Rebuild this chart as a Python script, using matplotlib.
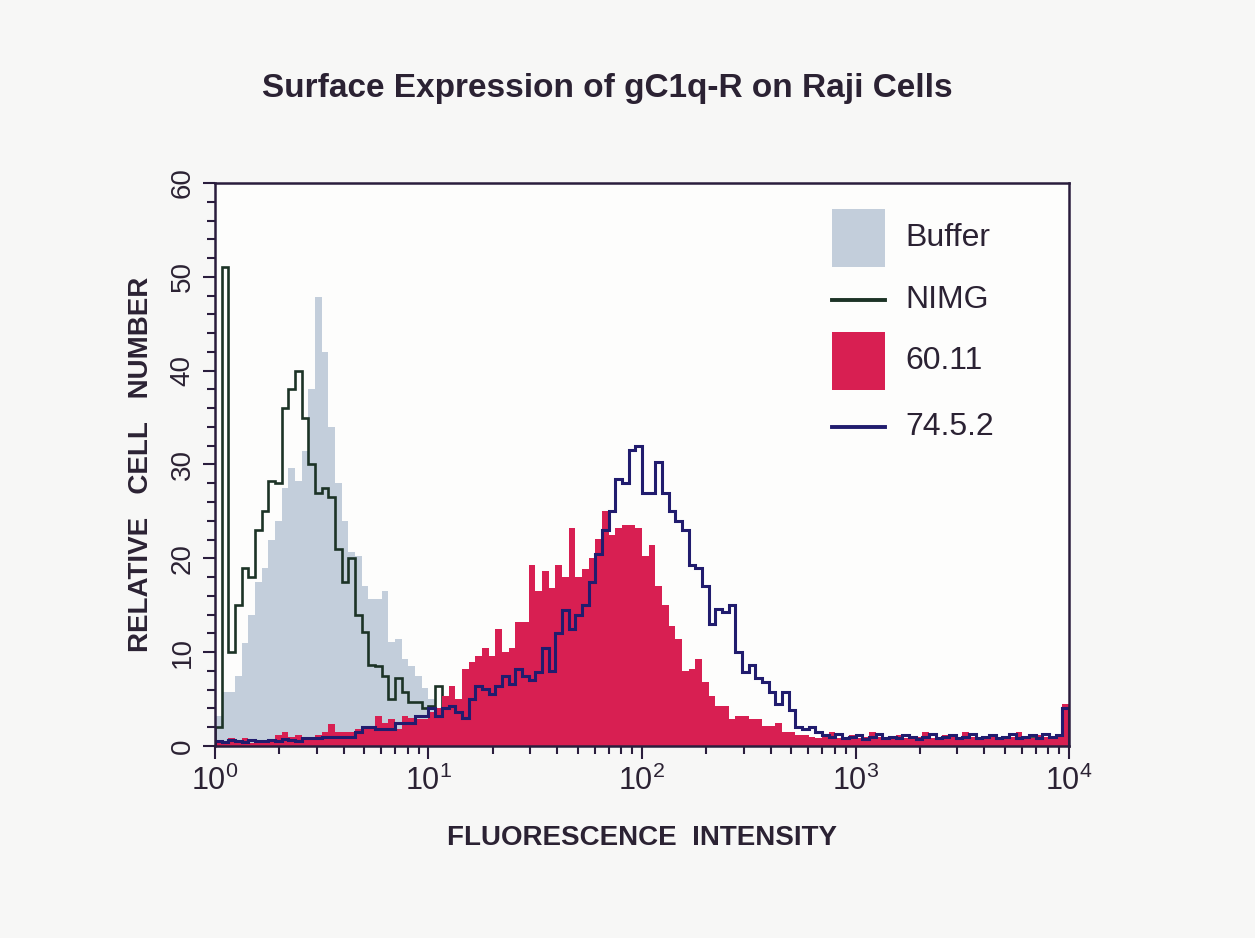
import matplotlib.pyplot as plt
import numpy as np
from matplotlib.patches import Rectangle
from matplotlib.lines import Line2D
from matplotlib.ticker import LogLocator, MultipleLocator, NullFormatter

# histogram counts, 128 log-spaced channels from 10^0 to 10^4
buffer = [3.2, 5.8, 5.8, 7.5, 11, 14, 17.5, 19,
          22, 24, 27.5, 29.6, 28.2, 31.4, 38, 47.8,
          42, 34, 28, 24, 20.7, 20.3, 17, 15.7,
          15.7, 16.5, 11.1, 11.4, 9.3, 8.5, 7.5, 6.2,
          5, 4, 3, 2, 1.5, 1, 0.5, 0]

nimg = [2, 51, 10, 15, 19, 18, 23, 25,
        28.2, 28, 36, 38, 40, 35, 30, 27,
        27.5, 26.5, 21, 17.5, 20, 14, 12.2, 8.6,
        8.5, 7.5, 5, 7.2, 5.8, 4.7, 4.7, 4,
        4.3, 6.4, 2.5, 2, 1.5, 1, 0.8, 0.6,
        0.8, 0.5, 0.7, 0.5, 0.8, 0.6, 0.5, 0.7,
        0.5, 0.6, 0.8, 0.5, 0.7, 0.5, 0.6, 0.8,
        0.5, 0.7, 0.5, 0.6, 0.8, 0.5, 0.7, 0.6,
        0.5, 0.8, 0.6, 0.5, 0.7, 0.8, 0.5, 0.6,
        0.7, 0.5, 0.8, 0.6, 0.5, 0.7, 0.6, 0.8,
        0.5, 0.7, 0.6, 0.5, 0.8, 0.6, 0.7, 0.5,
        0.8, 0.6, 0.5, 0.7, 0.9, 0.6, 0.5, 0.8,
        0.6, 0.7, 0.5, 0.9, 0.6, 0.5, 0.8, 0.6,
        0.7, 0.5, 0.9, 0.6, 0.7, 0.5, 0.8, 0.6,
        0.5, 0.9, 0.7, 0.6, 0.8, 0.5, 0.7, 0.9,
        0.6, 0.5, 0.8, 0.7, 0.6, 0.9, 0.7, 3.5]

ab_6011 = [0.3, 0.5, 0.8, 0.3, 0.8, 0.3, 0.3, 0.5,
           0.5, 1.2, 1.5, 1, 1.2, 0.8, 1, 1.2,
           1.5, 2.3, 1.5, 1.5, 1.5, 1.8, 2.1, 1.8,
           3.2, 2.5, 2.9, 1.8, 3.2, 3, 2.9, 2.9,
           3.6, 4, 5.3, 6.4, 5, 8.2, 9, 9.6,
           10.4, 9.6, 12.5, 10, 10.4, 13.2, 13.2, 19.3,
           16.5, 18.6, 16.8, 19.3, 18, 23.2, 18, 18.9,
           20, 22.1, 25, 22.5, 23.2, 23.5, 23.5, 23.2,
           20.3, 21.4, 17, 15, 12.8, 11.4, 8, 8.2,
           9.3, 6.8, 5.3, 4.3, 4.3, 2.9, 3.2, 3.2,
           2.9, 2.9, 2.1, 2.1, 2.5, 1.5, 1.5, 1.2,
           1.2, 1, 0.8, 1, 1.5, 0.8, 1, 1.2,
           0.8, 1, 1.5, 1, 0.8, 1, 1.2, 0.8,
           1, 1, 1.5, 0.8, 1, 1.2, 1, 0.8,
           1.5, 1, 0.8, 1, 1.2, 1, 0.8, 1,
           1.5, 1, 0.8, 1.2, 1, 0.8, 1.2, 4.5]

ab_7452 = [0.5, 0.4, 0.6, 0.5, 0.4, 0.6, 0.5, 0.5,
           0.6, 0.5, 0.7, 0.6, 0.5, 0.8, 0.8, 0.8,
           1, 1, 1, 1, 1, 1.5, 2, 2,
           1.8, 1.8, 1.8, 2.5, 2.5, 2.5, 3.2, 3.2,
           4, 3.2, 4, 4.3, 3.6, 3, 5, 6.4,
           6.1, 5.5, 6.4, 7.5, 6.6, 8.2, 7.5, 7,
           7.9, 10.4, 8, 12, 14.5, 12.5, 14, 15,
           17.5, 20.5, 23, 25, 28.5, 28, 31.5, 32,
           27, 27, 30.3, 27, 25, 24, 23, 19.3,
           19, 17, 13, 14.6, 14.3, 15, 10, 7.9,
           8.6, 7.2, 6.8, 5.8, 4.5, 5.8, 3.8, 2,
           1.8, 2, 1.5, 1.2, 1, 1.3, 0.8, 1,
           1.2, 0.7, 1, 1.3, 0.8, 1, 0.8, 1.2,
           1, 0.7, 1, 1.3, 0.8, 1, 1.2, 0.8,
           1, 1.3, 0.8, 1, 1.2, 0.8, 1, 1.3,
           0.8, 1, 1.2, 0.8, 1.3, 1, 1.2, 4]

labels = ['Buffer', 'NIMG', '60.11', '74.5.2']
x_ticks = [1, 10, 100, 1000, 10000]
x_ticklabels = ['$10^0$', '$10^1$', '$10^2$', '$10^3$', '$10^4$']

c_buffer = '#c3cedb'
c_nimg = '#1c3326'
c_red = '#d81f52'
c_blue = '#211c6e'
c_frame = '#2a1d3d'
c_text = '#2b2233'

plt.rcParams['font.family'] = ['Liberation Sans', 'DejaVu Sans']
plt.rcParams['mathtext.default'] = 'regular'

fig = plt.figure(figsize=(12.55, 9.38), dpi=100, facecolor='#f7f7f6')
ax = fig.add_axes([0.1713, 0.2047, 0.6805, 0.6002], facecolor='#fdfdfc')

edges = np.logspace(0, 4, len(ab_6011) + 1)

ax.stairs(buffer, edges[:len(buffer) + 1], fill=True, color=c_buffer, baseline=0)
ax.stairs(nimg, edges, color=c_nimg, lw=1.9, baseline=0)
ax.stairs(ab_6011, edges, fill=True, color=c_red, baseline=0)
ax.stairs(ab_7452, edges, color=c_blue, lw=2.2, baseline=0)

ax.set_xscale('log')
ax.set_xlim(1, 1e4)
ax.set_ylim(0, 60)
ax.set_xticks(x_ticks)
ax.set_xticklabels(x_ticklabels)
ax.xaxis.set_minor_locator(LogLocator(base=10, subs=range(2, 10)))
ax.xaxis.set_minor_formatter(NullFormatter())
ax.set_yticks(range(0, 61, 10))
ax.yaxis.set_minor_locator(MultipleLocator(2))

ax.tick_params(which='both', direction='out', color=c_frame, width=1.5,
               labelcolor=c_text, top=False, right=False)
ax.tick_params(which='major', length=9)
ax.tick_params(which='minor', length=6)
ax.tick_params(axis='x', labelsize=22, pad=5)
ax.tick_params(axis='y', labelsize=20, pad=5)
for lab in ax.get_yticklabels():
    lab.set_rotation(90)
    lab.set_va('center')
for s in ax.spines.values():
    s.set_color(c_frame)
    s.set_linewidth(1.8)

ax.set_xlabel('FLUORESCENCE  INTENSITY', fontsize=20, fontweight='bold',
              color=c_text, labelpad=20)
ax.set_ylabel('RELATIVE   CELL   NUMBER', fontsize=20, fontweight='bold',
              color=c_text, labelpad=11)

fig.text(0.484, 0.906, 'Surface Expression of gC1q-R on Raji Cells',
         ha='center', va='center', fontsize=24, fontweight='bold', color=c_text)

# key in the upper right, drawn in axes fraction
key_rows = [0.902, 0.792, 0.684, 0.567]
key_kind = ['patch', 'line', 'patch', 'line']
key_cols = [c_buffer, c_nimg, c_red, c_blue]
for lab, yr, kind, col in zip(labels, key_rows, key_kind, key_cols):
    if kind == 'patch':
        ax.add_patch(Rectangle((0.7225, yr - 0.0515), 0.062, 0.103,
                               transform=ax.transAxes, facecolor=col,
                               edgecolor='none'))
    else:
        ax.add_line(Line2D([0.7225, 0.7845], [yr, yr], transform=ax.transAxes,
                           color=col, lw=2.8))
    ax.text(0.808, yr, lab, transform=ax.transAxes, ha='left', va='center',
            fontsize=23, color=c_text)

fig.savefig('out.png', dpi=100, facecolor=fig.get_facecolor())
